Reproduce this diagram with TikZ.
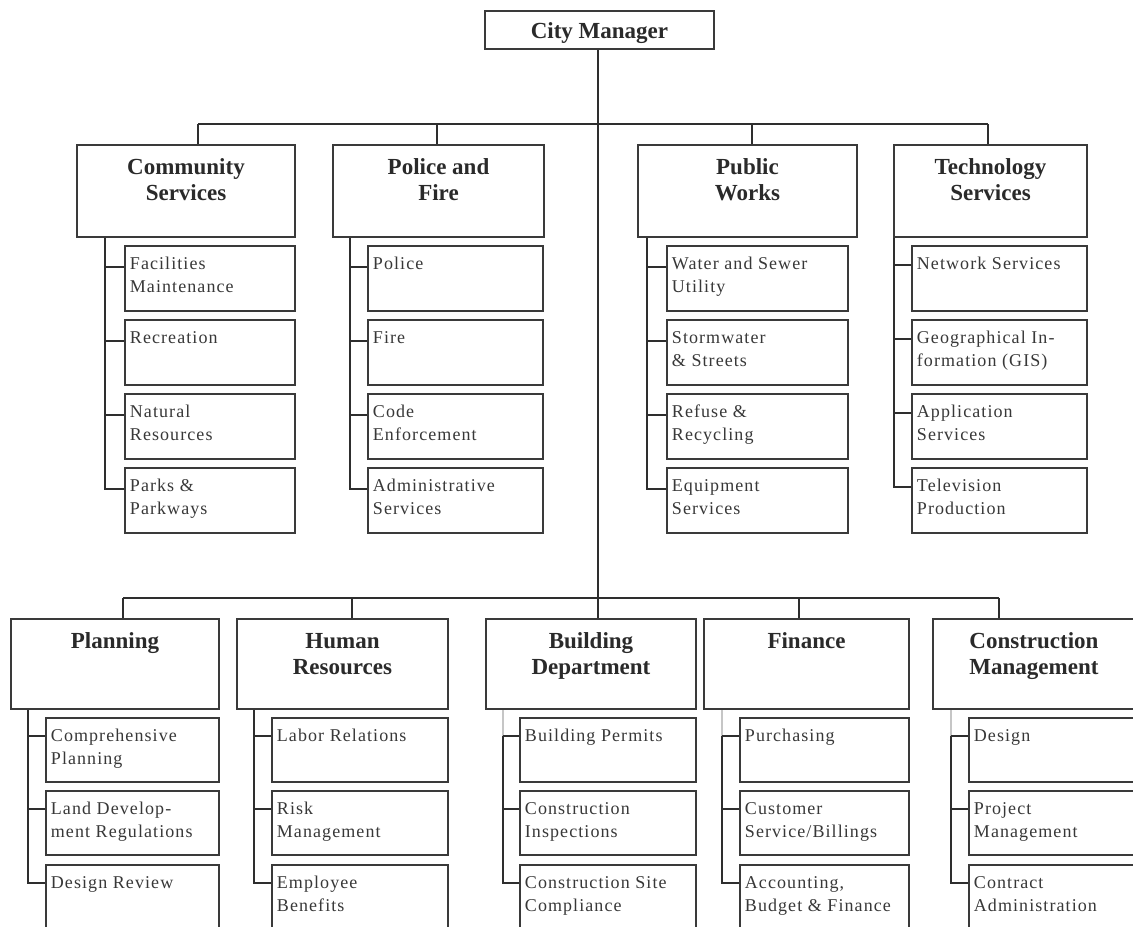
\documentclass[tikz,border=0pt]{standalone}
\usepackage{fontspec}
\setmainfont{Liberation Serif}
\newfontfamily\subfam[LetterSpace=6]{Liberation Serif}
\usetikzlibrary{calc}
\definecolor{linec}{HTML}{2E2E2E}
\definecolor{boxc}{HTML}{3A3A3A}
\definecolor{txtc}{HTML}{2A2A2A}
\definecolor{subtc}{HTML}{383838}
\tikzset{
  hbox/.style={draw=boxc, line width=1.5pt, inner sep=0pt, text=txtc,
    font=\fontsize{17.25}{19.5}\selectfont\bfseries},
  sbox/.style={draw=boxc, line width=1.4pt, inner sep=0pt, text=subtc,
    font=\subfam\fontsize{13.5}{17.25}\selectfont},
  trunk/.style={draw=linec, line width=1.6pt},
  side/.style={draw=linec, line width=1.3pt},
  faint/.style={draw=gray!45, line width=1.1pt},
}
% header box: [first baseline]{name}{x1}{y1}{x2}{y2}{text}
\newcommand\hdrbox[7][21.75pt]{%
  \pgfmathsetlengthmacro\bw{(#5-#3)*0.75}%
  \pgfmathsetlengthmacro\bh{(#6-#4)*0.75}%
  \node[hbox, anchor=north west] (#2) at (#3,#4)
    {\parbox[c][\bh][t]{\bw}{\centering\rule{0pt}{#1}#7\par}};}
% sub box: {name}{x1}{y1}{x2}{y2}{text}
\newcommand\subbox[6]{%
  \pgfmathsetlengthmacro\bw{(#4-#2)*0.75}%
  \pgfmathsetlengthmacro\bh{(#5-#3)*0.75}%
  \node[sbox, anchor=north west] (#1) at (#2,#3)
    {\parbox[c][\bh][t]{\bw}{\raggedright\leftskip=3.75pt\relax\hyphenpenalty=10000\rule{0pt}{18pt}#6\par}};}
% group connectors: {prefix}{vx}{header}{n}{tick offset}{top style}
\newcommand\grp[6]{%
  \coordinate (#1v) at (#2,0);
  \coordinate (#1v) at (#1v |- #3.south);
  \foreach \i in {1,...,#4}{\coordinate (#1t\i) at ($(#1\i.north west)+(0,#5)$);}
  \draw[#6] (#1v) -- (#1t1 -| #1v);
  \draw[side] (#1t1 -| #1v) |- (#1t#4);
  \foreach \i in {1,...,#4}{\draw[side] (#1t\i) -- (#1t\i -| #1v);}
}
\begin{document}
\begin{tikzpicture}[x=0.75pt,y=-0.75pt]
\useasboundingbox (0,0) rectangle (1133,926);
\clip (0,0) rectangle (1133,926);
\fill[white] (0,0) rectangle (1133,926);

% ---- top ----
\hdrbox[20.25pt]{cm}{484}{10}{713}{48}{City Manager}

\hdrbox{cs}{76}{144}{294}{236}{Community\\Services}
\hdrbox{pf}{332}{144}{543}{236}{Police and\\Fire}
\hdrbox{pw}{637}{144}{856}{236}{Public\\Works}
\hdrbox{ts}{893}{144}{1086}{236}{Technology\\Services}

\subbox{cs1}{124}{245}{294}{310}{Facilities\\Maintenance}
\subbox{cs2}{124}{319}{294}{384}{Recreation}
\subbox{cs3}{124}{393}{294}{458}{Natural\\Resources}
\subbox{cs4}{124}{467}{294}{532}{Parks \&\\Parkways}

\subbox{pf1}{367}{245}{542}{310}{Police}
\subbox{pf2}{367}{319}{542}{384}{Fire}
\subbox{pf3}{367}{393}{542}{458}{Code\\Enforcement}
\subbox{pf4}{367}{467}{542}{532}{Administrative\\Services}

\subbox{pw1}{666}{245}{847}{310}{Water and Sewer\\Utility}
\subbox{pw2}{666}{319}{847}{384}{Stormwater\\\& Streets}
\subbox{pw3}{666}{393}{847}{458}{Refuse \&\\Recycling}
\subbox{pw4}{666}{467}{847}{532}{Equipment\\Services}

\subbox{ts1}{911}{245}{1086}{310}{Network Services}
\subbox{ts2}{911}{319}{1086}{384}{Geographical In-\\formation (GIS)}
\subbox{ts3}{911}{393}{1086}{458}{Application\\Services}
\subbox{ts4}{911}{467}{1086}{532}{Television\\Production}

% ---- bottom ----
\hdrbox{pl}{10}{618}{218}{708}{Planning}
\hdrbox{hr}{236}{618}{447}{708}{Human\\Resources}
\hdrbox{bd}{485}{618}{695}{708}{Building\\Department}
\hdrbox{fi}{703}{618}{908}{708}{Finance}
\hdrbox{cmg}{932}{618}{1134}{708}{Construction\\Management}

\subbox{pl1}{45}{717}{218}{781}{Comprehensive\\Planning}
\subbox{pl2}{45}{790}{218}{854}{Land Develop-\\ment Regulations}
\subbox{pl3}{45}{864}{218}{940}{Design Review}

\subbox{hr1}{271}{717}{447}{781}{Labor Relations}
\subbox{hr2}{271}{790}{447}{854}{Risk\\Management}
\subbox{hr3}{271}{864}{447}{940}{Employee\\Benefits}

\subbox{bd1}{519}{717}{695}{781}{Building Permits}
\subbox{bd2}{519}{790}{695}{854}{Construction\\Inspections}
\subbox{bd3}{519}{864}{695}{940}{Construction Site\\Compliance}

\subbox{fi1}{739}{717}{908}{781}{Purchasing}
\subbox{fi2}{739}{790}{908}{854}{Customer\\Service/Billings}
\subbox{fi3}{739}{864}{908}{940}{Accounting,\\Budget \& Finance}

\subbox{cmg1}{968}{717}{1134}{781}{Design}
\subbox{cmg2}{968}{790}{1134}{854}{Project\\Management}
\subbox{cmg3}{968}{864}{1134}{940}{Contract\\Administration}

% ---- main connectors ----
\coordinate (bb) at (598,598);
\coordinate (tL) at (198,124);
\coordinate (t2) at (437,124);
\coordinate (t3) at (752,124);
\coordinate (tR) at (988,124);
\coordinate (bL) at (123,598);
\coordinate (b2) at (352,598);
\coordinate (b4) at (799,598);
\coordinate (bR) at (999,598);

\draw[trunk] (cm.south -| bb) -- (bb);
\draw[trunk] (tL) -- (tR);
\draw[trunk] (tL) -- (tL |- cs.north);
\draw[trunk] (t2) -- (t2 |- pf.north);
\draw[trunk] (t3) -- (t3 |- pw.north);
\draw[trunk] (tR) -- (tR |- ts.north);
\draw[trunk] (bL) -- (bR);
\draw[trunk] (bL) -- (bL |- pl.north);
\draw[trunk] (b2) -- (b2 |- hr.north);
\draw[trunk] (bb) -- (bb |- bd.north);
\draw[trunk] (b4) -- (b4 |- fi.north);
\draw[trunk] (bR) -- (bR |- cmg.north);

% ---- group connectors ----
\grp{cs}{105}{cs}{4}{22}{side}
\grp{pf}{350}{pf}{4}{22}{side}
\grp{pw}{647}{pw}{4}{22}{side}
\grp{ts}{894}{ts}{4}{20}{side}
\grp{pl}{28}{pl}{3}{19}{side}
\grp{hr}{254}{hr}{3}{19}{side}
\grp{bd}{503}{bd}{3}{19}{faint}
\grp{fi}{722}{fi}{3}{19}{faint}
\grp{cmg}{951}{cmg}{3}{19}{faint}
\end{tikzpicture}
\end{document}
